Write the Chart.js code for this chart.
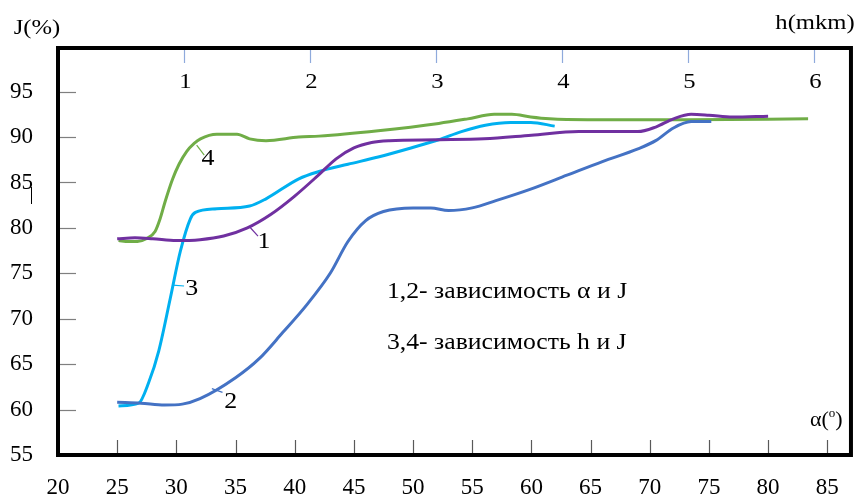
<!DOCTYPE html>
<html>
<head>
<meta charset="utf-8">
<script src="https://cdn.jsdelivr.net/npm/chart.js@4.4.1/dist/chart.umd.min.js"></script>
<style>
  html, body { margin: 0; padding: 0; background: #fff; }
  canvas { display: block; }
</style>
</head>
<body>
<canvas id="chart" width="858" height="501"></canvas>
<script>
// curves 1,2 : J vs alpha (bottom axis)
var alpha1 = [25, 26.5, 28, 30, 32, 34, 36, 38, 40, 42, 43.5, 45, 46.5, 48, 52, 56, 60, 64, 67, 69, 70.5, 72, 73.5, 75, 77, 80];
var j1 = [78.8, 78.9, 78.8, 78.6, 78.7, 79.1, 80, 81.5, 83.5, 85.8, 87.6, 88.8, 89.4, 89.6, 89.7, 89.8, 90.2, 90.6, 90.6, 90.6, 91.1, 92, 92.5, 92.4, 92.2, 92.3];
var alpha2 = [25, 27, 29, 30.5, 32, 35, 37, 39, 41, 43, 44.5, 46, 47.5, 50, 51.5, 53, 55, 57, 60, 63, 66, 69, 70.5, 72, 73.5, 75.2];
var j2 = [60.8, 60.7, 60.5, 60.6, 61.2, 63.5, 65.6, 68.5, 71.5, 75, 78.5, 80.8, 81.8, 82.2, 82.2, 81.9, 82.2, 83, 84.3, 85.8, 87.3, 88.7, 89.6, 91, 91.7, 91.7];

// curves 3,4 : J vs h (top axis)
var h3 = [0.48, 0.64, 0.72, 0.8, 0.89, 0.97, 1.05, 1.09, 1.26, 1.52, 1.65, 1.91, 2.07, 2.3, 2.54, 2.8, 3.02, 3.2, 3.39, 3.59, 3.75, 3.94];
var j3 = [60.4, 60.7, 63, 66.5, 72.2, 77.4, 81.0, 81.7, 82.1, 82.4, 83.2, 85.4, 86.2, 87, 87.8, 88.8, 89.7, 90.6, 91.3, 91.6, 91.6, 91.2];
var h4 = [0.48, 0.56, 0.63, 0.7, 0.77, 0.81, 0.85, 0.91, 0.96, 1.02, 1.08, 1.13, 1.26, 1.42, 1.52, 1.65, 1.91, 2.07, 2.54, 3.02, 3.25, 3.46, 3.6, 3.75, 3.9, 4.2, 5.0, 5.95];
var j4 = [78.6, 78.5, 78.5, 78.8, 79.6, 81, 82.9, 85.4, 87, 88.4, 89.3, 89.8, 90.3, 90.3, 89.8, 89.6, 90.0, 90.1, 90.7, 91.5, 92, 92.5, 92.5, 92.2, 92.0, 91.9, 91.9, 92.0];

var alphaTicks = [20, 25, 30, 35, 40, 45, 50, 55, 60, 65, 70, 75, 80, 85];
var hTicks = [1, 2, 3, 4, 5, 6];
var jTicks = [55, 60, 65, 70, 75, 80, 85, 90, 95];

var colors = ['#7030A0', '#4472C4', '#00B0F0', '#70AD47'];
var serif = "'Liberation Serif', 'Times New Roman', Times, serif";

function pairs(xs, ys) {
    return xs.map(function (x, i) { return { x: x, y: ys[i] }; });
}

function stretchText(ctx, text, x, y, size, align, k) {
    k = k || 1.12;
    ctx.save();
    ctx.font = size + 'px ' + serif;
    ctx.textBaseline = 'middle';
    ctx.textAlign = 'left';
    var w = ctx.measureText(text).width * k;
    var x0 = align === 'center' ? x - w / 2 : x;
    ctx.translate(x0, y);
    ctx.scale(k, 1);
    ctx.fillStyle = '#000';
    ctx.fillText(text, 0, 0);
    ctx.restore();
}

var decorations = {
    id: 'decorations',
    afterDatasetsDraw: function (chart) {
        var ctx = chart.ctx;
        var a = chart.chartArea;
        var sx = chart.scales.x, sh = chart.scales.x2, sy = chart.scales.y;
        ctx.save();

        // inner tick marks
        ctx.lineWidth = 1.2;
        ctx.strokeStyle = '#7f7f7f';
        jTicks.forEach(function (v) {
            if (v === 55) return;
            var y = Math.round(sy.getPixelForValue(v)) + 0.5;
            ctx.beginPath(); ctx.moveTo(a.left, y); ctx.lineTo(a.left + 18, y); ctx.stroke();
        });
        ctx.strokeStyle = '#595959';
        alphaTicks.forEach(function (v) {
            if (v === 20) return;
            var x = Math.round(sx.getPixelForValue(v)) + 0.5;
            ctx.beginPath(); ctx.moveTo(x, a.bottom); ctx.lineTo(x, a.bottom - 15); ctx.stroke();
        });
        ctx.strokeStyle = '#8FAADC';
        sh.ticks.forEach(function (t) {
            var x = Math.round(sh.getPixelForValue(t.value)) + 0.5;
            ctx.beginPath(); ctx.moveTo(x, a.top); ctx.lineTo(x, a.top + 15); ctx.stroke();
            // h labels sit inside the frame
            stretchText(ctx, String(t.value), x + 1, a.top + 34, 22, 'center');
        });

        // curve numbers with leader lines
        var marks = [
            { s: sx, t: '1', c: colors[0], l: [36.2, 80.1, 36.9, 79.1], p: [37.4, 78.5] },
            { s: sx, t: '2', c: colors[1], l: [33.0, 62.3, 33.9, 61.9], p: [34.6, 60.9] },
            { s: sh, t: '3', c: colors[2], l: [0.91, 73.7, 1.0, 73.6], p: [1.06, 73.3] },
            { s: sh, t: '4', c: colors[3], l: [1.10, 89.1, 1.16, 88.0], p: [1.19, 87.6] }
        ];
        marks.forEach(function (m) {
            ctx.strokeStyle = m.c;
            ctx.lineWidth = 1.2;
            ctx.beginPath();
            ctx.moveTo(m.s.getPixelForValue(m.l[0]), sy.getPixelForValue(m.l[1]));
            ctx.lineTo(m.s.getPixelForValue(m.l[2]), sy.getPixelForValue(m.l[3]));
            ctx.stroke();
            stretchText(ctx, m.t, m.s.getPixelForValue(m.p[0]), sy.getPixelForValue(m.p[1]), 24, 'center', 1.08);
        });

        // note text
        stretchText(ctx, '1,2- зависимость α и J', sx.getPixelForValue(47.8), sy.getPixelForValue(73.0), 24, 'left', 1.07);
        stretchText(ctx, '3,4- зависимость h и J', sx.getPixelForValue(47.8), sy.getPixelForValue(67.4), 24, 'left', 1.07);

        // frame
        ctx.strokeStyle = '#000';
        ctx.lineWidth = 4;
        ctx.strokeRect(a.left, a.top, a.right - a.left, a.bottom - a.top);
        ctx.restore();
    },
    afterDraw: function (chart) {
        var ctx = chart.ctx;
        stretchText(ctx, 'J(%)', 37, 28, 22, 'center');
        stretchText(ctx, 'h(mkm)', 815, 23, 22, 'center');
        // alpha(o) label
        ctx.save();
        ctx.fillStyle = '#000';
        ctx.textBaseline = 'middle';
        ctx.font = '22px ' + serif;
        ctx.fillText('α(', 810, 420);
        var w = ctx.measureText('α(').width;
        ctx.font = '13px ' + serif;
        ctx.fillText('o', 810 + w, 414);
        var w2 = ctx.measureText('o').width;
        ctx.font = '22px ' + serif;
        ctx.fillText(')', 810 + w + w2, 420);
        // stray mark next to 85
        ctx.strokeStyle = '#000';
        ctx.lineWidth = 1;
        ctx.beginPath(); ctx.moveTo(31.5, 187); ctx.lineTo(31.5, 204); ctx.stroke();
        ctx.restore();
    }
};

var tickFont = { family: serif, size: 23 };

var ctx = document.getElementById('chart').getContext('2d');
var myChart = new Chart(ctx, {
    type: 'line',
    data: {
        datasets: [
            { data: pairs(alpha1, j1), xAxisID: 'x', borderColor: colors[0] },
            { data: pairs(alpha2, j2), xAxisID: 'x', borderColor: colors[1] },
            { data: pairs(h3, j3), xAxisID: 'x2', borderColor: colors[2] },
            { data: pairs(h4, j4), xAxisID: 'x2', borderColor: colors[3] }
        ]
    },
    options: {
        responsive: false,
        animation: false,
        layout: { padding: { top: 48, right: 2, left: 0, bottom: 0 } },
        plugins: { legend: { display: false }, tooltip: { enabled: false } },
        elements: {
            point: { radius: 0 },
            line: { borderWidth: 3, cubicInterpolationMode: 'monotone', fill: false }
        },
        scales: {
            x: {
                type: 'linear', position: 'bottom', min: 20, max: 87,
                afterBuildTicks: function (s) { s.ticks = alphaTicks.map(function (v) { return { value: v }; }); },
                ticks: { font: tickFont, color: '#000', padding: 19, maxRotation: 0, autoSkip: false },
                grid: { display: false, drawTicks: false },
                border: { display: false },
                afterFit: function (s) { s.height = 46; }
            },
            x2: {
                type: 'linear', position: 'top', min: 0, max: 6.29,
                afterBuildTicks: function (s) { s.ticks = hTicks.map(function (v) { return { value: v }; }); },
                ticks: { display: false },
                grid: { display: false, drawTicks: false },
                border: { display: false },
                afterFit: function (s) { s.height = 0; }
            },
            y: {
                min: 55, max: 99.8,
                afterBuildTicks: function (s) { s.ticks = jTicks.map(function (v) { return { value: v }; }); },
                ticks: { font: tickFont, color: '#000', padding: 25, autoSkip: false },
                grid: { display: false, drawTicks: false },
                border: { display: false },
                afterFit: function (s) { s.width = 58; }
            }
        }
    },
    plugins: [decorations]
});
</script>
</body>
</html>
